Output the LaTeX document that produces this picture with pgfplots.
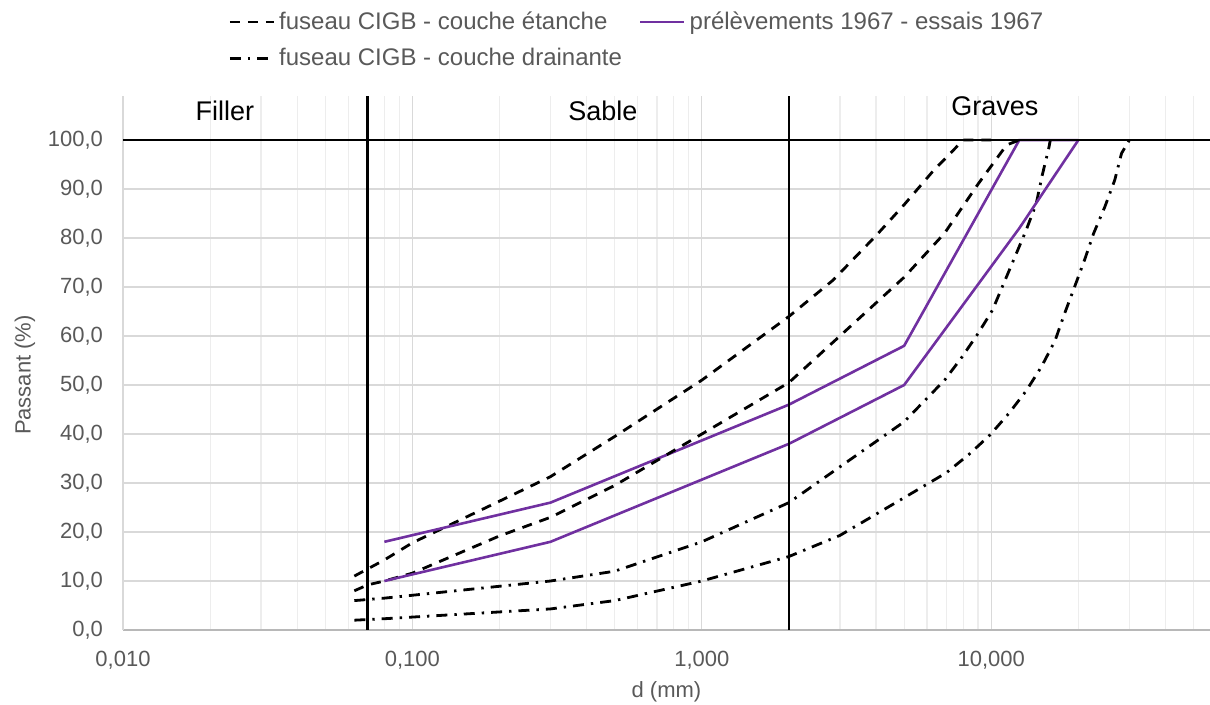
\documentclass[border=0pt]{standalone}
\usepackage{fontspec}
\setmainfont{Liberation Sans}
\usepackage{pgfplots}
\pgfplotsset{compat=1.18}
\definecolor{tickgray}{HTML}{595959}
\definecolor{gridmaj}{HTML}{D9D9D9}
\definecolor{gridmin}{HTML}{EDEDED}
\definecolor{purp}{HTML}{7030A0}
\tikzset{
  etanche/.style={black, line width=1.4pt, dash pattern=on 5pt off 4pt},
  drain/.style={black, line width=1.4pt, dash pattern=on 5.5pt off 3.5pt on 1.2pt off 3.5pt},
  prel/.style={purp, line width=1.3pt},
  limite/.style={black, line width=1.4pt}
}
\begin{document}
\begin{tikzpicture}[x=1pt,y=1pt]
\path[use as bounding box] (-61.5,-37.5) rectangle (543.5,315);
\begin{axis}[
  at={(0,0)}, anchor=south west,
  scale only axis, width=543.5pt, height=267pt,
  xmode=log, log basis x=10,
  xmin=0.01, xmax=57, ymin=0, ymax=109,
  xtick={0.01,0.1,1,10},
  xticklabels={{0,010},{0,100},{1,000},{10,000}},
  minor xtick={0.02,0.03,0.04,0.05,0.06,0.07,0.08,0.09,0.2,0.3,0.4,0.5,0.6,0.7,0.8,0.9,2,3,4,5,6,7,8,9,20,30,40,50},
  ytick={0,10,...,100},
  xmajorgrids, xminorgrids, ymajorgrids,
  major grid style={gridmaj, line width=0.6pt},
  minor grid style={gridmin, line width=0.6pt},
  major tick length=0pt, minor tick length=0pt,
  axis lines*=left,
  axis line style={-},
  x axis line style={draw=black!28, line width=0.7pt},
  y axis line style={draw=gridmaj, line width=0.6pt},
  yticklabel style={/pgf/number format/fixed, /pgf/number format/fixed zerofill, /pgf/number format/precision=1, /pgf/number format/use comma, /pgf/number format/assume math mode=true, xshift=-6.5pt},
  xticklabel style={yshift=-7pt},
  tick label style={text=tickgray, font=\fontsize{11}{13}\selectfont},
  xlabel={d (mm)}, ylabel={Passant (\%)},
  every axis x label/.style={at={(axis description cs:0.5,0)}, anchor=center, yshift=-31pt, text=tickgray, font=\fontsize{11}{13}\selectfont},
  every axis y label/.style={at={(axis description cs:-0.0902,0.4775)}, anchor=center, rotate=90, text=tickgray, font=\fontsize{11}{13}\selectfont},
  legend columns=2,
  legend cell align=left,
  legend style={at={(axis description cs:0.0966,1.166)}, anchor=north west, draw=none, fill=none,
    font=\fontsize{12}{14}\selectfont, text=tickgray, inner sep=0pt, row sep=4pt,
    /tikz/every even column/.append style={column sep=6.5pt}},
  legend image code/.code={\draw[#1] (0pt,0pt) -- (22pt,0pt);},
]
% fuseau CIGB - couche etanche (upper bound)
\addplot[etanche] coordinates {(0.063,11) (0.08,14.3) (0.1,17.8) (0.2,26.3) (0.3,31.3) (0.5,39.5) (1,51) (2,64) (2.84,71.4) (4,80.5) (5,86.8) (6.3,93.7) (8,100) (10,100)};
\addlegendentry{fuseau CIGB - couche étanche}
% prelevements 1967 (upper)
\addplot[prel] coordinates {(0.08,18) (0.3,26) (2,46) (5,58) (12.5,100) (20,100)};
\addlegendentry{prélèvements 1967 - essais 1967}
% fuseau CIGB - couche drainante (upper bound)
\addplot[drain] coordinates {(0.063,6) (0.08,6.5) (0.3,10) (0.5,12) (1,18) (2,26) (5,42.5) (6.9,51) (7.9,55.6) (9,60.5) (10.1,65.3) (13.2,81.6) (14.3,87) (15,92.8) (15.8,98.3) (16,100)};
\addlegendentry{ fuseau CIGB - couche drainante}
% lower bounds
\addplot[etanche, forget plot] coordinates {(0.063,8) (0.07,9.2) (0.08,10) (0.1,11.6) (0.2,19.2) (0.3,23) (0.5,29.5) (1,40) (2,50.5) (5,72) (6.9,81) (9,91) (11.3,99) (12.5,100)};
\addplot[drain, forget plot] coordinates {(0.063,2) (0.08,2.3) (0.3,4.3) (0.5,6) (1,10) (2,15) (3,19.3) (5,27) (7,32.1) (8.4,35.9) (9.9,39.8) (11.5,44.2) (13.2,48.8) (14.9,53.7) (16.6,59) (17.9,64.5) (19.4,70) (21,75.5) (22.6,81) (24.7,86.4) (26.7,91.8) (28.2,97.3) (30,100)};
\addplot[prel, forget plot] coordinates {(0.08,10) (0.3,18) (2,38) (5,50) (12.5,82) (20,100)};
% limits
\addplot[limite, forget plot] coordinates {(0.01,100) (57,100)};
\addplot[limite, forget plot] coordinates {(0.07,0) (0.07,109)};
\addplot[limite, forget plot] coordinates {(2,0) (2,109)};
\node[font=\fontsize{13.5}{16}\selectfont] at (axis cs:0.0225,106) {Filler};
\node[font=\fontsize{13.5}{16}\selectfont] at (axis cs:0.455,106) {Sable};
\node[font=\fontsize{13.5}{16}\selectfont] at (axis cs:10.3,107) {Graves};
\end{axis}
\end{tikzpicture}
\end{document}
